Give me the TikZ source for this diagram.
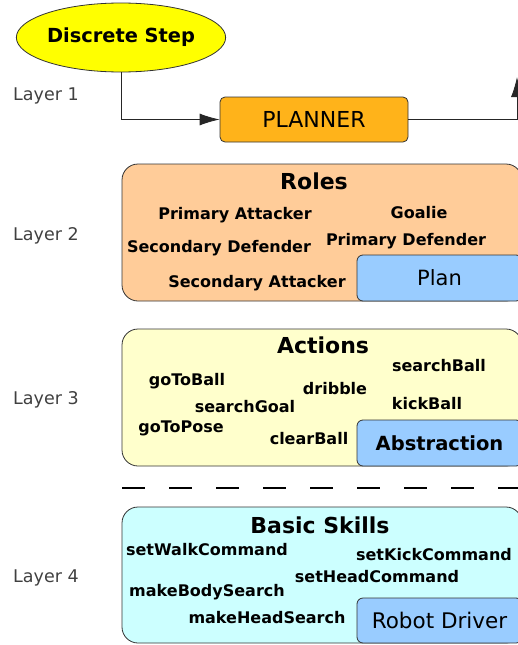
\documentclass[tikz,border=0pt]{standalone}
\usepackage{fontspec}
\setmainfont{DejaVu Sans}
\usetikzlibrary{shapes.geometric, arrows.meta, positioning}
\definecolor{stepyellow}{HTML}{FFFF00}
\definecolor{plannerorange}{HTML}{FFB31A}
\definecolor{rolespeach}{HTML}{FFCC99}
\definecolor{actionsyellow}{HTML}{FFFFCC}
\definecolor{skillscyan}{HTML}{CCFFFF}
\definecolor{innerblue}{HTML}{99CCFF}
\tikzstyle{arrow}     = [black!85, line width=0.8pt, -{Latex[length=20pt,width=12pt]}]
\tikzstyle{layer}     = [anchor=base west, inner sep=0pt, text=black!75, font=\fontsize{17.5}{20}\selectfont]
\tikzstyle{layerbox}  = [draw=black!80, line width=0.8pt, rounded corners=16pt, minimum width=400pt, inner sep=0pt]
\tikzstyle{innerbox}  = [draw=black!80, line width=0.8pt, fill=innerblue, rounded corners=6pt, minimum width=165pt, inner sep=0pt]
\tikzstyle{title}     = [anchor=base, inner sep=0pt, font=\fontsize{22}{26}\selectfont\bfseries]
\tikzstyle{item}      = [anchor=base, inner sep=0pt, font=\fontsize{16}{18}\selectfont\bfseries]

\begin{document}
\begin{tikzpicture}[
        x=1pt, y=-1pt,
        every node/.style={text=black}
    ]

        \useasboundingbox (0,0) rectangle (518,645);
        \clip (0,0) rectangle (518,645);

        % Layer 1
        \node[ellipse, draw=black!80, line width=0.8pt, fill=stepyellow,
              minimum width=188pt, minimum height=69pt, inner sep=0pt,
              font=\fontsize{19.4}{22}\selectfont\bfseries]
            (step) at (121,37.5) {Discrete Step};

        \node[draw=black!80, line width=0.8pt, fill=plannerorange, rounded corners=5pt,
              minimum width=188pt, minimum height=45pt, inner sep=0pt,
              font=\fontsize{22}{24}\selectfont]
            (planner) at (314,119.5) {PLANNER};

        \coordinate (up) at (517,77);

        \draw[arrow]
            (step.south) |- (planner.west);

        \draw[arrow]
            (planner.east) -| (up);

        % Layer labels
        \node[layer] (l1) at (13,100) {Layer 1};
        \node[layer] (l2) at (13,240) {Layer 2};
        \node[layer] (l3) at (13,404) {Layer 3};
        \node[layer] (l4) at (13,582) {Layer 4};

        % Roles
        \node[layerbox, fill=rolespeach, minimum height=137pt]
            (roles) at (322,232.5) {};
        \node[innerbox, minimum height=46pt, font=\fontsize{21}{24}\selectfont]
            (plan) at (439.5,278) {Plan};

        \node[title] (rolestitle) at (314,189) {Roles};
        \node[item] (pattacker) at (235,219) {Primary Attacker};
        \node[item] (goalie) at (419,218) {Goalie};
        \node[item] (sdefender) at (219,252) {Secondary Defender};
        \node[item] (pdefender) at (406,245) {Primary Defender};
        \node[item] (sattacker) at (257,287) {Secondary Attacker};

        % Actions
        \node[layerbox, fill=actionsyellow, minimum height=137pt]
            (actions) at (322,397.5) {};
        \node[innerbox, minimum height=46pt, font=\fontsize{19.5}{22}\selectfont\bfseries]
            (abstraction) at (439.5,443) {Abstraction};

        \node[title] (actionstitle) at (323,353) {Actions};
        \node[item] (searchball) at (439,371) {searchBall};
        \node[item] (gotoball) at (187,385) {goToBall};
        \node[item] (dribble) at (335,394) {dribble};
        \node[item] (searchgoal) at (245,412) {searchGoal};
        \node[item] (kickball) at (427,409) {kickBall};
        \node[item] (gotopose) at (181,432) {goToPose};
        \node[item] (clearball) at (309,444) {clearBall};

        % Separator
        \draw[black, line width=2pt, dash pattern=on 23pt off 24pt]
            (122,488) -- (530,488);

        % Basic Skills
        \node[layerbox, fill=skillscyan, minimum height=136pt]
            (skills) at (322,575) {};
        \node[innerbox, minimum height=45pt, font=\fontsize{21.5}{24}\selectfont]
            (driver) at (439.5,620.5) {Robot Driver};

        \node[title] (skillstitle) at (320,533) {Basic Skills};
        \node[item] (walkcmd) at (207,555) {setWalkCommand};
        \node[item] (kickcmd) at (434,560) {setKickCommand};
        \node[item] (headcmd) at (377,582) {setHeadCommand};
        \node[item] (bodysearch) at (207,596) {makeBodySearch};
        \node[item] (headsearch) at (267,623) {makeHeadSearch};

    \end{tikzpicture}
\end{document}
